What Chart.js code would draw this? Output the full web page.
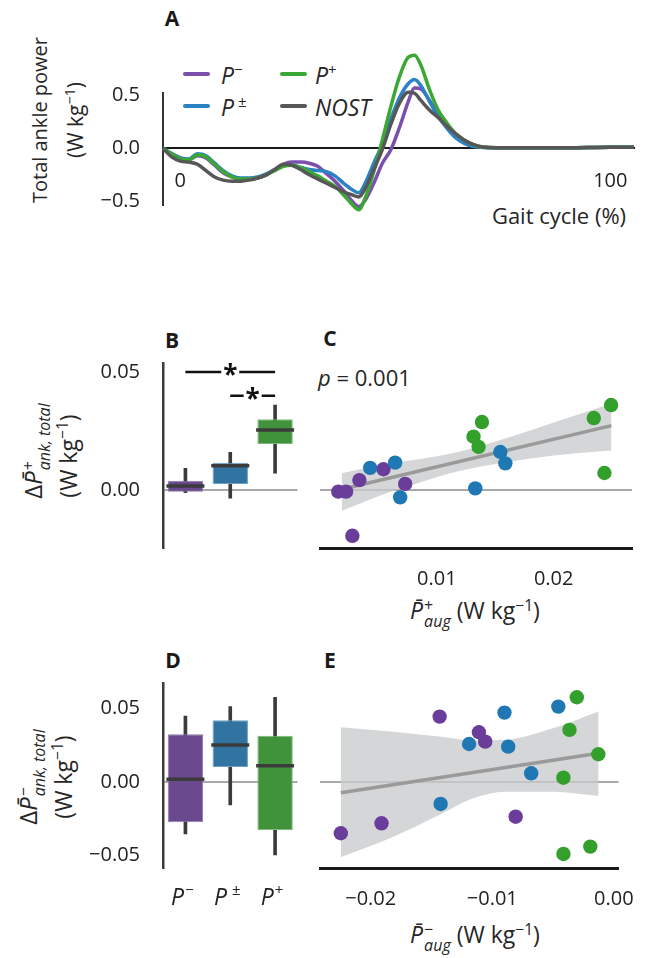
<!DOCTYPE html>
<html>
<head>
<meta charset="utf-8">
<script src="https://cdn.jsdelivr.net/npm/chart.js@4.4.1/dist/chart.umd.min.js"></script>
<style>
body { margin: 0; background: #fff; }
#fig { position: relative; width: 653px; height: 958px; overflow: hidden; font-family: 'Open Sans', sans-serif; color: #262626; }
canvas { position: absolute; }
.lab { position: absolute; white-space: nowrap; line-height: 1; transform: translate(-50%, -50%); }
.rot { transform: translate(-50%, -50%) rotate(-90deg); }
.let { font-weight: bold; font-size: 21px; color: #1a1a1a; }
.ss { display: inline-flex; flex-direction: column; vertical-align: middle; font-size: 16px; line-height: 16px; margin-left: 1px; }
.ss .dn { font-style: italic; }
sup { font-size: 0.68em; vertical-align: 0.55em; line-height: 0; }
.leg { position: absolute; height: 4px; width: 27px; border-radius: 2px; }
.legt { position: absolute; font-size: 23px; font-style: italic; line-height: 1; transform: translateY(-50%); white-space: nowrap; }
.legt sup { font-style: normal; font-size: 15px; vertical-align: 0.6em; }
</style>
</head>
<body>
<div id="fig">
  <div class="lab let" style="left:172px;top:18px">A</div>
  <div class="lab let" style="left:172px;top:340px">B</div>
  <div class="lab let" style="left:330px;top:338px">C</div>
  <div class="lab let" style="left:173px;top:660px">D</div>
  <div class="lab let" style="left:330px;top:660px">E</div>

  <div class="lab rot" style="left:40px;top:120px;font-size:20px">Total ankle power</div>
  <div class="lab rot" style="left:75px;top:120px;font-size:21px">(W kg<sup>−1</sup>)</div>
  <div class="lab" style="left:559px;top:215px;font-size:22px">Gait cycle (%)</div>

  <div class="leg" style="left:183px;top:72px;background:#7a4fae"></div>
  <div class="legt" style="left:221px;top:75px">P<sup>−</sup></div>
  <div class="leg" style="left:280px;top:72px;background:#3aa833"></div>
  <div class="legt" style="left:315px;top:75px">P<sup>+</sup></div>
  <div class="leg" style="left:183px;top:104px;background:#2b82c4"></div>
  <div class="legt" style="left:221px;top:107px">P<sup>&nbsp;±</sup></div>
  <div class="leg" style="left:280px;top:104px;background:#575757"></div>
  <div class="legt" style="left:315px;top:107px">NOST</div>

  <div class="lab rot" style="left:36px;top:451px;font-size:24px">Δ<i>P&#772;</i><span class="ss"><span>+</span><span class="dn">ank, total</span></span></div>
  <div class="lab rot" style="left:68px;top:456px;font-size:23px">(W kg<sup>−1</sup>)</div>
  <div class="lab" style="left:318px;top:377px;font-size:22px;transform:translateY(-50%)"><i>p</i> = 0.001</div>
  <div class="lab" style="left:475px;top:613px;font-size:23px"><i>P&#772;</i><span class="ss"><span>+</span><span class="dn">aug</span></span> (W kg<sup>−1</sup>)</div>

  <div class="lab rot" style="left:31px;top:777px;font-size:24px">Δ<i>P&#772;</i><span class="ss"><span>−</span><span class="dn">ank, total</span></span></div>
  <div class="lab rot" style="left:63px;top:777px;font-size:23px">(W kg<sup>−1</sup>)</div>
  <div class="lab" style="left:475px;top:937px;font-size:23px"><i>P&#772;</i><span class="ss"><span>−</span><span class="dn">aug</span></span> (W kg<sup>−1</sup>)</div>
</div>
<script>
// panel A: total ankle power over the gait cycle
const gaitX = [-4, -2, 0, 2, 4, 6, 8, 10, 12, 14, 16, 18, 20, 22, 24, 26, 28, 30, 32, 34, 36, 38, 40,
  41.5, 43, 45, 47, 49, 51, 53, 54.5, 56, 58, 60, 62, 64, 66, 68, 70, 75, 80, 90, 100, 105.5];
const powerPminus = [0, -0.05, -0.09, -0.11, -0.07, -0.09, -0.16, -0.23, -0.27, -0.29, -0.29, -0.28, -0.25, -0.20, -0.15, -0.13, -0.13, -0.14, -0.17, -0.24, -0.31, -0.40, -0.50,
  -0.55, -0.49, -0.33, -0.14, -0.01, 0.20, 0.44, 0.57, 0.56, 0.45, 0.31, 0.20, 0.11, 0.05, 0.02, 0.01, 0.005, 0.005, 0.005, 0.01, 0.01];
const powerPpm = [0, -0.05, -0.09, -0.10, -0.05, -0.07, -0.14, -0.21, -0.26, -0.28, -0.28, -0.27, -0.24, -0.20, -0.16, -0.16, -0.18, -0.20, -0.21, -0.22, -0.26, -0.33, -0.39,
  -0.42, -0.33, -0.14, 0.04, 0.28, 0.48, 0.61, 0.65, 0.59, 0.44, 0.30, 0.19, 0.10, 0.05, 0.02, 0.01, 0.005, 0.005, 0.005, 0.01, 0.01];
const powerPplus = [0, -0.05, -0.10, -0.11, -0.06, -0.08, -0.15, -0.22, -0.27, -0.29, -0.29, -0.28, -0.25, -0.21, -0.17, -0.16, -0.18, -0.22, -0.26, -0.31, -0.36, -0.44, -0.53,
  -0.58, -0.47, -0.22, 0.08, 0.40, 0.68, 0.86, 0.88, 0.78, 0.55, 0.36, 0.24, 0.14, 0.08, 0.035, 0.015, 0.005, 0.005, 0.005, 0.01, 0.01];
const powerNost = [0, -0.08, -0.12, -0.13, -0.15, -0.21, -0.27, -0.30, -0.31, -0.31, -0.30, -0.28, -0.25, -0.20, -0.15, -0.16, -0.20, -0.25, -0.29, -0.33, -0.37, -0.41, -0.44,
  -0.46, -0.38, -0.20, -0.01, 0.23, 0.43, 0.53, 0.52, 0.45, 0.36, 0.29, 0.21, 0.14, 0.08, 0.04, 0.015, 0.005, 0.005, 0.005, 0.01, 0.01];
const gaitTicks = [0, 100];
const powerTicks = [-0.5, 0, 0.5];

// panels B-E: conditions
const conds = ['P−', 'P±', 'P+'];
const condColors = ['#6a3d9a', '#1f78b4', '#33a02c'];
const boxColors = ['#6a498e', '#3274a1', '#40923b'];
const boxEdges = ['#8f7bad', '#6f9fc4', '#7cb877'];

// B: positive work change, box stats
const posLow = [-0.0011, -0.0035, 0.0071];
const posQ1 = [-0.0007, 0.0025, 0.0195];
const posMed = [0.0017, 0.0103, 0.0254];
const posQ3 = [0.0039, 0.0116, 0.0300];
const posHigh = [0.0092, 0.016, 0.036];
const posTicks = [0, 0.05];
const sigPairs = [[0, 2, 0.05], [1, 2, 0.04]];

// C: positive augmentation vs change
const augPosX = [
  [0.00157, 0.00223, 0.00337, 0.00543, 0.00729, 0.00277],
  [0.00429, 0.00643, 0.00686, 0.01329, 0.01543, 0.01586],
  [0.01386, 0.01314, 0.01357, 0.02343, 0.02491, 0.02434]
];
const augPosY = [
  [-0.0007, -0.0007, 0.0042, 0.0088, 0.0026, -0.0194],
  [0.0094, 0.0116, -0.0031, 0.0007, 0.0161, 0.0113],
  [0.0288, 0.0226, 0.0183, 0.0305, 0.0360, 0.0072]
];
const fitPosX = [0.00186, 0.02494];
const fitPosY = [0.0003, 0.0273];
const bandPosX = [0.00186, 0.005, 0.008, 0.011, 0.014, 0.017, 0.020, 0.023, 0.02494];
const bandPosUp = [0.0071, 0.0104, 0.0127, 0.0153, 0.0190, 0.0236, 0.0286, 0.0335, 0.0367];
const bandPosLo = [-0.0088, -0.0026, 0.0023, 0.0069, 0.0102, 0.0126, 0.0146, 0.0160, 0.0167];
const augPosTicks = [0.01, 0.02];

// D: negative work change, box stats
const negLow = [-0.0355, -0.0157, -0.0498];
const negQ1 = [-0.0275, 0.0102, -0.0327];
const negMed = [0.0018, 0.0252, 0.0111];
const negQ3 = [0.0325, 0.0421, 0.0316];
const negHigh = [0.045, 0.0514, 0.0578];
const negTicks = [-0.05, 0, 0.05];

// E: negative augmentation vs change
const augNegX = [
  [-0.02246, -0.01911, -0.01433, -0.0111, -0.01058, -0.00808],
  [-0.01425, -0.01191, -0.009, -0.00869, -0.0068, -0.00457],
  [-0.00305, -0.00365, -0.00128, -0.00415, -0.00415, -0.00194]
];
const augNegY = [
  [-0.035, -0.0282, 0.0446, 0.0339, 0.0275, -0.0237],
  [-0.015, 0.0259, 0.0473, 0.0241, 0.0059, 0.0514],
  [0.0578, 0.0355, 0.0189, 0.0029, -0.0491, -0.0441]
];
const fitNegX = [-0.02246, -0.00126];
const fitNegY = [-0.0073, 0.0196];
const bandNegX = [-0.02246, -0.01813, -0.0142, -0.01157, -0.00895, -0.00501, -0.00126];
const bandNegUp = [0.0373, 0.0343, 0.0309, 0.0284, 0.0288, 0.0366, 0.0480];
const bandNegLo = [-0.0514, -0.0373, -0.0218, -0.0111, -0.0066, -0.0066, -0.0096];
const augNegTicks = [-0.02, -0.01, 0];

Chart.defaults.font.family = "'Open Sans', sans-serif";
Chart.defaults.color = '#222';

const fmt = (v, d) => v.toFixed(d).replace('-', '−');
const pts = (xs, ys) => xs.map((x, i) => ({ x: x, y: ys[i] }));
const setTicks = arr => (s => { s.ticks = arr.map(v => ({ value: v })); });
const zeroGrid = c => (c.tick && c.tick.value === 0) ? '#a8a8a8' : 'rgba(0,0,0,0)';

function mk(left, top, w, h) {
  const c = document.createElement('canvas');
  c.width = w; c.height = h;
  c.style.left = left + 'px'; c.style.top = top + 'px';
  document.getElementById('fig').appendChild(c);
  return c;
}

function baseOpts(padding) {
  return {
    responsive: false, animation: false, devicePixelRatio: 1, events: [],
    layout: { padding: padding },
    plugins: { legend: { display: false }, tooltip: { enabled: false } }
  };
}

// significance brackets with stars
const sigPlugin = {
  id: 'sig',
  afterDatasetsDraw(chart) {
    const ctx = chart.ctx, xs = chart.scales.x, ys = chart.scales.y;
    ctx.save();
    ctx.strokeStyle = '#111'; ctx.fillStyle = '#111'; ctx.lineWidth = 2.5;
    sigPairs.forEach(p => {
      const x1 = xs.getPixelForValue(p[0]), x2 = xs.getPixelForValue(p[1]);
      const y = ys.getPixelForValue(p[2]), xm = (x1 + x2) / 2;
      ctx.beginPath();
      ctx.moveTo(x1, y); ctx.lineTo(xm - 9, y);
      ctx.moveTo(xm + 9, y); ctx.lineTo(x2, y);
      ctx.stroke();
      ctx.font = "bold 26px 'Open Sans'";
      ctx.textAlign = 'center'; ctx.textBaseline = 'middle';
      ctx.fillText('*', xm, y + 5);
    });
    ctx.restore();
  }
};

// italic P with superscript as category labels of panel D
const condLabelPlugin = {
  id: 'condLabels',
  afterDraw(chart) {
    const ctx = chart.ctx, xs = chart.scales.x;
    ctx.save();
    ctx.fillStyle = '#222';
    ctx.textBaseline = 'alphabetic'; ctx.textAlign = 'left';
    conds.forEach((lab, i) => {
      const sup = lab.slice(1);
      const cx = xs.getPixelForValue(i) - 3;
      ctx.font = "italic 23px 'Open Sans'";
      const wp = ctx.measureText('P').width;
      ctx.font = "15px 'Open Sans'";
      const ws = ctx.measureText(sup).width;
      const gap = sup === '±' ? 5 : 1;
      const x0 = cx - (wp + gap + ws) / 2;
      ctx.font = "italic 23px 'Open Sans'";
      ctx.fillText('P', x0, 265);
      ctx.font = "15px 'Open Sans'";
      ctx.fillText(sup, x0 + wp + gap, 255);
    });
    ctx.restore();
  }
};

// ---------- A ----------
const lineStyle = { borderWidth: 3.5, pointRadius: 0, cubicInterpolationMode: 'monotone', clip: false, fill: false };
new Chart(mk(0, 0, 653, 240), {
  type: 'line',
  data: {
    datasets: [
      Object.assign({ label: 'NOST', data: pts(gaitX, powerNost), borderColor: '#575757', order: 0 }, lineStyle),
      Object.assign({ label: 'P+', data: pts(gaitX, powerPplus), borderColor: '#3aa833', order: 1 }, lineStyle),
      Object.assign({ label: 'P±', data: pts(gaitX, powerPpm), borderColor: '#2b82c4', order: 2 }, lineStyle),
      Object.assign({ label: 'P−', data: pts(gaitX, powerPminus), borderColor: '#7a4fae', order: 3 }, lineStyle)
    ]
  },
  options: Object.assign(baseOpts({ left: 0, right: 19, top: 93.3, bottom: 28.3 }), {
    scales: {
      x: {
        type: 'linear', min: -4, max: 105.5, position: { y: 0 },
        grid: { display: false, drawTicks: false },
        border: { display: true, color: '#1a1a1a', width: 2 },
        ticks: { font: { size: 20 }, padding: 21, callback: v => String(v) },
        afterBuildTicks: setTicks(gaitTicks)
      },
      y: {
        min: -0.535, max: 0.52,
        grid: { display: false, drawTicks: false },
        border: { color: '#333', width: 2 },
        ticks: { font: { size: 20 }, padding: 23, callback: v => fmt(v, 1) },
        afterBuildTicks: setTicks(powerTicks),
        afterFit: s => { s.width = 163; }
      }
    }
  })
});

// ---------- box plots ----------
function boxChart(top, h, low, q1, med, q3, high, ymin, ymax, yticks, plugins, padBottom) {
  return new Chart(mk(0, top, 320, h), {
    type: 'bar',
    data: {
      labels: conds,
      datasets: [
        { type: 'line', data: med, showLine: false, pointStyle: 'line', pointRadius: 19,
          pointBorderWidth: 3.5, pointBorderColor: '#3b3b3b', order: 0 },
        { data: q1.map((v, i) => [v, q3[i]]), backgroundColor: boxColors, borderColor: boxEdges,
          borderWidth: 1, borderSkipped: false, barPercentage: 0.79, categoryPercentage: 1, grouped: false, order: 1 },
        { data: low.map((v, i) => [v, high[i]]), backgroundColor: '#3b3b3b', barThickness: 3,
          grouped: false, order: 2 }
      ]
    },
    options: Object.assign(baseOpts({ left: 0, right: 5, top: 43.3, bottom: padBottom }), {
      scales: {
        x: { type: 'category', display: false, offset: true },
        y: {
          min: ymin, max: ymax,
          grid: { color: zeroGrid, lineWidth: 2, drawTicks: false },
          border: { color: '#3b3b3b', width: 2.5 },
          ticks: { font: { size: 20 }, padding: 23, callback: v => fmt(v, 2) },
          afterBuildTicks: setTicks(yticks),
          afterFit: s => { s.width = 163; }
        }
      }
    }),
    plugins: plugins
  });
}

boxChart(320, 320, posLow, posQ1, posMed, posQ3, posHigh, -0.0247, 0.0537, posTicks, [sigPlugin], 91.7);
boxChart(640, 318, negLow, negQ1, negMed, negQ3, negHigh, -0.0589, 0.0673, negTicks, [condLabelPlugin], 89.7);

// ---------- scatter + regression ----------
function scatterChart(top, h, xs, ys, fitX, fitY, bandX, bandUp, bandLo, xmin, xmax, xticks, ymin, ymax) {
  const datasets = [
    { type: 'line', data: pts(bandX, bandUp), borderWidth: 0, pointRadius: 0, fill: '+1',
      backgroundColor: 'rgba(200,202,205,0.78)', cubicInterpolationMode: 'monotone', order: 6 },
    { type: 'line', data: pts(bandX, bandLo), borderWidth: 0, pointRadius: 0, fill: false,
      cubicInterpolationMode: 'monotone', order: 6 },
    { type: 'line', data: pts(fitX, fitY), borderColor: '#9a9a9a', borderWidth: 3.5, pointRadius: 0, fill: false, order: 5 }
  ];
  xs.forEach((gx, k) => {
    datasets.push({ label: conds[k], data: pts(gx, ys[k]), backgroundColor: condColors[k],
      pointBackgroundColor: condColors[k], pointBorderWidth: 0, pointRadius: 7.2, order: 3 - k });
  });
  return new Chart(mk(300, top, 353, h), {
    type: 'scatter',
    data: { datasets: datasets },
    options: Object.assign(baseOpts({ left: 20, right: 21, top: 43.3, bottom: 0 }), {
      scales: {
        x: {
          type: 'linear', min: xmin, max: xmax,
          grid: { display: false, drawTicks: false },
          border: { color: '#1a1a1a', width: 3 },
          ticks: { font: { size: 20 }, padding: 19, callback: v => fmt(v, 2) },
          afterBuildTicks: setTicks(xticks),
          afterFit: s => { s.height = h - 228.3; }
        },
        y: {
          min: ymin, max: ymax,
          grid: { color: '#a8a8a8', lineWidth: 2, drawTicks: false },
          border: { display: false },
          ticks: { display: false },
          afterBuildTicks: setTicks([0]),
          afterFit: s => { s.width = 0; }
        }
      }
    })
  });
}

scatterChart(320, 320, augPosX, augPosY, fitPosX, fitPosY, bandPosX, bandPosUp, bandPosLo,
  0, 0.0267, augPosTicks, -0.0247, 0.0537);
scatterChart(640, 318, augNegX, augNegY, fitNegX, fitNegY, bandNegX, bandNegUp, bandNegLo,
  -0.02417, 0.00039, augNegTicks, -0.0589, 0.0673);
</script>
</body>
</html>
